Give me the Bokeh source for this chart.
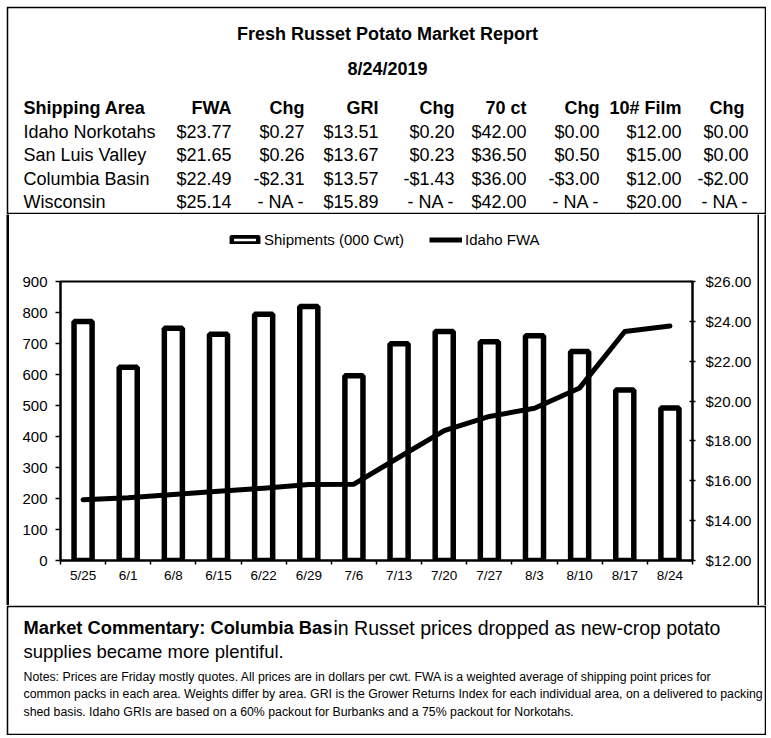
from bokeh.plotting import figure
from bokeh.models import (Range1d, LinearAxis, FixedTicker, NumeralTickFormatter,
                          Legend, LegendItem, ColumnDataSource)
from bokeh.layouts import column, row
from bokeh.embed import file_html
from bokeh.resources import INLINE
from bokeh.core.properties import value
from bokeh.core.validation import silence
from bokeh.core.validation.warnings import MISSING_RENDERERS

silence(MISSING_RENDERERS, True)

FONT = "Liberation Sans"

# ---------------- data ----------------
report_title = "Fresh Russet Potato Market Report"
report_date = "8/24/2019"

table_headers = ["Shipping Area", "FWA", "Chg", "GRI", "Chg", "70 ct", "Chg", "10# Film", "Chg"]
areas = ["Idaho Norkotahs", "San Luis Valley", "Columbia Basin", "Wisconsin"]
fwa = [23.77, 21.65, 22.49, 25.14]
fwa_chg = [0.27, 0.26, -2.31, None]
gri = [13.51, 13.67, 13.57, 15.89]
gri_chg = [0.20, 0.23, -1.43, None]
ct70 = [42.00, 36.50, 36.00, 42.00]
ct70_chg = [0.00, 0.50, -3.00, None]
film10 = [12.00, 15.00, 12.00, 20.00]
film10_chg = [0.00, 0.00, -2.00, None]

weeks = ["5/25", "6/1", "6/8", "6/15", "6/22", "6/29", "7/6",
         "7/13", "7/20", "7/27", "8/3", "8/10", "8/17", "8/24"]
shipments = [771, 623, 749, 730, 794, 819, 596, 699, 739, 706, 725, 674, 550, 492]
idaho_fwa = [15.05, 15.15, 15.31, 15.48, 15.63, 15.81, 15.83,
             17.18, 18.52, 19.23, 19.64, 20.66, 23.49, 23.77]
left_ticks = [0, 100, 200, 300, 400, 500, 600, 700, 800, 900]
right_ticks = [12, 14, 16, 18, 20, 22, 24, 26]
series_names = ["Shipments (000 Cwt)", "Idaho FWA"]

commentary_bold = "Market Commentary: Columbia Bas"
commentary_rest = "in Russet prices dropped as new-crop potato"
commentary_line2 = "supplies became more plentiful."
notes = [
    "Notes: Prices are Friday mostly quotes. All prices are in dollars per cwt. FWA is a weighted average of shipping point prices for",
    "common packs in each area. Weights differ by area. GRI is the Grower Returns Index for each individual area, on a delivered to packing",
    "shed basis. Idaho GRIs are based on a 60% packout for Burbanks and a 75% packout for Norkotahs.",
]

# ---------------- layout sizes (page pixels) ----------------
OFF = 6                      # offset of the outer box on the page
TOTAL_W = 760
HEAD_H, CHART_H, FOOT_H = 208, 391, 130
LEG_H = 57
BL, BR = 51, 65              # chart side borders

BAR_STYLE = dict(fill_color="white", line_color="black", line_width=5.5)
LINE_STYLE = dict(line_color="black", line_width=5, line_join="round", line_cap="round")


def money(v):
    if v is None:
        return "- NA -"
    return ("-$%.2f" % -v) if v < 0 else ("$%.2f" % v)


def text_panel(h, top):
    f = figure(width=TOTAL_W, height=h,
               x_range=Range1d(OFF + 2, OFF + TOTAL_W - 2),
               y_range=Range1d(top + h - 2, top + 2),
               min_border=2, border_fill_color="black",
               background_fill_color="white", outline_line_color=None,
               x_axis_location=None, y_axis_location=None,
               toolbar_location=None, output_backend="svg")
    f.grid.visible = False
    return f


def strip(w, color):
    s = figure(width=w, height=CHART_H, min_border=0,
               background_fill_color=color, border_fill_color=color,
               outline_line_color=None, x_axis_location=None,
               y_axis_location=None, toolbar_location=None,
               output_backend="svg")
    s.grid.visible = False
    return s


# ---------------- header ----------------
head = text_panel(HEAD_H, OFF)
head.text(x=[387, 387], y=[33, 68], text=[report_title, report_date],
          text_font=value(FONT), text_font_size="18px", text_font_style="bold",
          text_align="center", text_baseline="middle", text_color="black")

col_right = [231, 304, 378, 454, 526, 599, 681, 748]
head_right = [231, 304, 378, 454, 526, 599, 681, 744]
row_y = [131, 154.5, 178, 201.5]
header_y = 107

head.text(x=[23], y=[header_y], text=[table_headers[0]], text_font=value(FONT),
          text_font_size="18px", text_font_style="bold", text_align="left",
          text_baseline="middle", text_color="black")
head.text(x=head_right, y=[header_y] * 8, text=table_headers[1:], text_font=value(FONT),
          text_font_size="18px", text_font_style="bold", text_align="right",
          text_baseline="middle", text_color="black")
head.text(x=[23] * len(areas), y=row_y, text=areas, text_font=value(FONT),
          text_font_size="18px", text_align="left", text_baseline="middle",
          text_color="black")
cols = [fwa, fwa_chg, gri, gri_chg, ct70, ct70_chg, film10, film10_chg]
cx, cy, ct = [], [], []
for xr, colvals in zip(col_right, cols):
    for yy, v in zip(row_y, colvals):
        cx.append(xr)
        cy.append(yy)
        ct.append(money(v))
head.text(x=cx, y=cy, text=ct, text_font=value(FONT), text_font_size="18px",
          text_align="right", text_baseline="middle", text_color="black")

# ---------------- chart ----------------
n = len(weeks)
idx = list(range(n))
src = ColumnDataSource(dict(x=idx, week=weeks, ship=shipments, fwa=idaho_fwa))

CHART_W = TOTAL_W - 3 - 2 - 5 - 2
p = figure(width=CHART_W, height=CHART_H - LEG_H,
           x_range=Range1d(-0.5, n - 0.5), y_range=Range1d(0, 900),
           min_border_left=BL, min_border_right=BR, min_border_top=10,
           min_border_bottom=45, toolbar_location=None, output_backend="svg",
           background_fill_color="white", border_fill_color="white",
           outline_line_color="black", outline_line_width=2)
p.grid.visible = False
p.extra_y_ranges = {"fwa": Range1d(12, 26)}

bars = p.vbar(x="x", top="ship", bottom=0, width=0.4, source=src, **BAR_STYLE)
ln = p.line(x="x", y="fwa", source=src, y_range_name="fwa", **LINE_STYLE)

xa = p.xaxis[0]
xa.ticker = FixedTicker(ticks=idx, minor_ticks=[i - 0.5 for i in range(n + 1)])
xa.major_label_overrides = {i: w for i, w in zip(idx, weeks)}
xa.major_tick_line_color = None
xa.major_tick_in = 0
xa.major_tick_out = 0
xa.minor_tick_in = 0
xa.minor_tick_out = 4
xa.minor_tick_line_color = "black"
xa.minor_tick_line_width = 1.5
xa.axis_line_color = "black"
xa.axis_line_width = 2
xa.major_label_standoff = 3
xa.major_label_text_font = FONT
xa.major_label_text_font_size = "13.5px"
xa.major_label_text_color = "black"

ya = p.yaxis[0]
ya.ticker = FixedTicker(ticks=left_ticks)
ya.minor_tick_line_color = None
ya.major_tick_in = 0
ya.major_tick_out = 5
ya.major_tick_line_width = 1.5
ya.major_tick_line_color = "black"
ya.axis_line_color = "black"
ya.axis_line_width = 2
ya.major_label_standoff = 8
ya.major_label_text_font = FONT
ya.major_label_text_font_size = "15px"
ya.major_label_text_color = "black"

ra = LinearAxis(y_range_name="fwa", ticker=FixedTicker(ticks=right_ticks),
                formatter=NumeralTickFormatter(format="$0.00"))
ra.minor_tick_line_color = None
ra.major_tick_in = 3
ra.major_tick_out = 3
ra.major_tick_line_width = 1.5
ra.major_tick_line_color = "black"
ra.axis_line_color = "black"
ra.axis_line_width = 2
ra.major_label_standoff = 10
ra.major_label_text_font = FONT
ra.major_label_text_font_size = "15px"
ra.major_label_text_color = "black"
p.add_layout(ra, "right")

# legend strip above the plot (its own canvas, so the legend is not clipped).
# Its swatches come from hidden renderers of the same series.
LEG_TOP = OFF + HEAD_H
FRAME_LEFT = OFF + 3 + BL
lg = figure(width=CHART_W, height=LEG_H, min_border=0,
            min_border_left=BL, min_border_right=BR,
            x_range=Range1d(-0.5, n - 0.5), y_range=Range1d(0, 900),
            background_fill_color="white", border_fill_color="white",
            outline_line_color=None, x_axis_location=None, y_axis_location=None,
            toolbar_location=None, output_backend="svg")
lg.grid.visible = False
leg_bar = lg.vbar(x="x", top="ship", bottom=0, width=0.4, source=src,
                  fill_color="white", line_color="black", line_width=4.5,
                  visible=False)
leg_line = lg.line(x="x", y="fwa", source=src, line_color="black", line_width=5,
                   line_cap="butt", visible=False)
legend = Legend(items=[LegendItem(label=series_names[0], renderers=[leg_bar]),
                       LegendItem(label=series_names[1], renderers=[leg_line])],
                orientation="horizontal",
                location=(228 - FRAME_LEFT, (LEG_TOP + LEG_H) - 248),
                glyph_width=33, glyph_height=9, label_standoff=3, spacing=25,
                padding=0, margin=0, border_line_color=None,
                background_fill_alpha=0, inactive_fill_alpha=0,
                label_text_font=FONT,
                label_text_font_size="15px", label_text_color="black",
                label_height=15)
lg.add_layout(legend)

chart_row = row(strip(3, "black"), column(lg, p), strip(2, "black"),
                strip(5, "white"), strip(2, "black"))

# ---------------- footer ----------------
foot = text_panel(FOOT_H, OFF + HEAD_H + CHART_H)
foot.text(x=[23], y=[627], text=[commentary_bold], text_font=value(FONT),
          text_font_size="18.3px", text_font_style="bold", text_align="left",
          text_baseline="middle", text_color="black")
foot.text(x=[333], y=[627], text=[commentary_rest],
          text_font=value(FONT), text_font_size="19.5px", text_align="left",
          text_baseline="middle", text_color="black")
foot.text(x=[23], y=[651], text=[commentary_line2],
          text_font=value(FONT), text_font_size="18.5px", text_align="left",
          text_baseline="middle", text_color="black")
foot.text(x=[23, 23, 23], y=[676, 693.5, 711], text=notes, text_font=value(FONT),
          text_font_size="12.3px", text_align="left", text_baseline="middle",
          text_color="black")

layout = column(head, chart_row, foot, margin=(OFF, 0, 0, OFF))

open("out.html", "w").write(file_html(layout, INLINE, title=report_title))
